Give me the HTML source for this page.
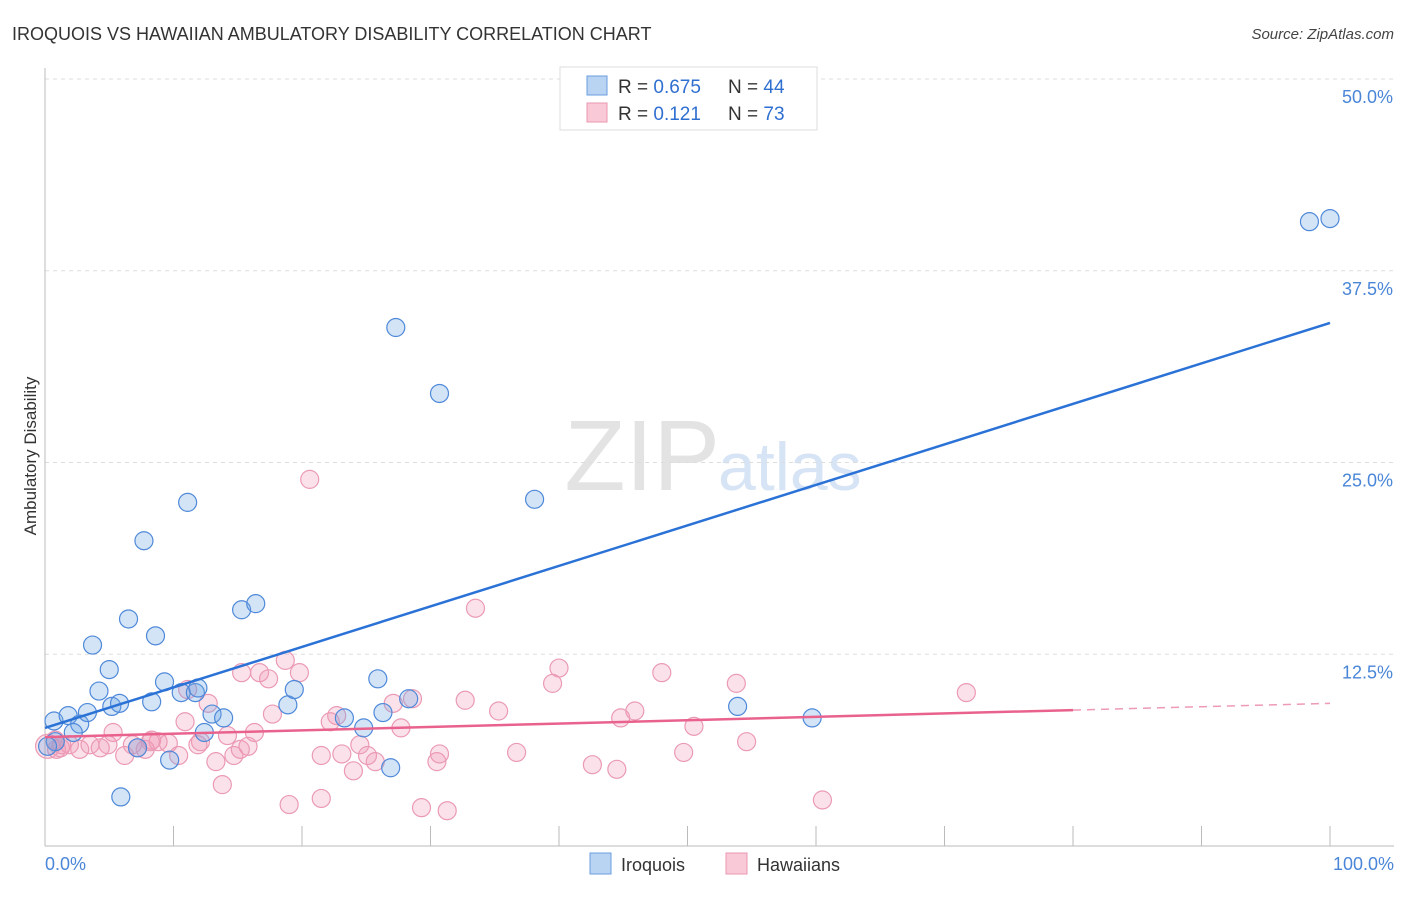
<!DOCTYPE html>
<html><head><meta charset="utf-8"><style>
body{margin:0;background:#fff;font-family:"Liberation Sans",sans-serif}
svg text{font-family:"Liberation Sans",sans-serif}
</style></head><body>
<svg id="chart" width="1406" height="892" viewBox="0 0 1406 892">
<text x="12" y="40" font-size="18" fill="#333">IROQUOIS VS HAWAIIAN AMBULATORY DISABILITY CORRELATION CHART</text>
<text x="1394" y="39" font-size="15" fill="#444" font-style="italic" text-anchor="end">Source: ZipAtlas.com</text>
<text x="720" y="490" font-size="100" fill="#e3e3e3" text-anchor="end" font-family="Liberation Serif">ZIP</text>
<text x="718" y="490" font-size="68" fill="#d6e4f5">atlas</text>
<g id="grid"></g>
<g id="axes"></g>
<g id="points"></g>
<g id="trends"></g>
<text x="36" y="456" font-size="17" fill="#333" text-anchor="middle" transform="rotate(-90 36 456)">Ambulatory Disability</text>
<text x="45" y="870" font-size="18" fill="#4a86d8">0.0%</text>
<text x="1394" y="870" font-size="18" fill="#4a86d8" text-anchor="end">100.0%</text>
<g>
<rect x="560" y="67" width="257" height="63" fill="#fff" stroke="#ddd"/>
<rect x="587" y="76" width="20" height="19" fill="#b9d3f3" stroke="#6a9edf"/>
<text x="618" y="93" font-size="19" fill="#333">R = <tspan fill="#2f6fd0">0.675</tspan></text>
<text x="728" y="93" font-size="19" fill="#333">N = <tspan fill="#2f6fd0">44</tspan></text>
<rect x="587" y="103" width="20" height="19" fill="#f9c9d8" stroke="#ec97b2"/>
<text x="618" y="120" font-size="19" fill="#333">R =  <tspan fill="#2f6fd0">0.121</tspan></text>
<text x="728" y="120" font-size="19" fill="#333">N = <tspan fill="#2f6fd0">73</tspan></text>
</g>
<g>
<rect x="590" y="853" width="21" height="21" fill="#b9d3f3" stroke="#6a9edf"/>
<text x="621" y="871" font-size="18" fill="#333">Iroquois</text></g>
<g>
<rect x="726" y="853" width="21" height="21" fill="#f9c9d8" stroke="#ec97b2"/>
<text x="757" y="871" font-size="18" fill="#333">Hawaiians</text></g>
</svg>
<script>
const yTicks=[12.5,25,37.5,50];
const yTickLabels=["12.5%","25.0%","37.5%","50.0%"];
const xTicks=[10,20,30,40,50,60,70,80,90,100];
const iroquoisX=[0.7,1.8,2.7,2.2,0.8,3.3,4.2,5.0,5.2,5.8,3.7,6.5,8.3,8.6,7.7,11.1,9.3,10.6,11.7,11.9,13.0,13.9,12.4,9.7,7.2,5.9,15.3,16.4,18.9,19.4,23.3,24.8,25.9,26.3,26.9,28.3,27.3,30.7,38.1,53.9,59.7,98.4,100,0.2];
const iroquoisY=[8.15,8.5,7.95,7.4,6.8,8.7,10.1,11.5,9.1,9.3,13.1,14.8,9.4,13.7,19.9,22.4,10.7,10.0,10.0,10.3,8.6,8.35,7.4,5.6,6.4,3.2,15.4,15.8,9.2,10.2,8.35,7.7,10.9,8.7,5.1,9.6,33.8,29.5,22.6,9.1,8.35,40.7,40.9,6.5];
const hawaiiansX=[0.2,0.8,1.3,1.9,2.7,3.5,4.3,4.9,5.3,6.2,6.8,7.2,7.8,8.3,8.8,9.6,10.4,10.9,11.1,11.9,12.1,12.7,13.3,13.8,14.2,14.7,15.3,15.8,16.3,16.7,17.4,17.7,18.7,19.0,19.8,20.6,21.5,21.5,22.2,22.7,23.1,24.0,24.5,25.1,25.7,27.1,27.7,28.6,29.3,30.5,30.7,31.3,32.7,33.5,35.3,36.7,39.5,40.0,42.6,44.5,44.8,45.9,48.0,49.7,50.5,53.8,54.6,60.5,71.7,0.9,8.2,1.2,15.2];
const hawaiiansY=[6.5,6.9,6.6,6.6,6.3,6.6,6.4,6.6,7.4,5.9,6.6,6.4,6.3,6.9,6.8,6.7,5.9,8.1,10.2,6.6,6.8,9.3,5.5,4.0,7.2,5.9,11.3,6.5,7.4,11.3,10.9,8.6,12.1,2.7,11.3,23.9,5.9,3.1,8.1,8.5,6.0,4.9,6.6,5.9,5.5,9.3,7.7,9.6,2.5,5.5,6.0,2.3,9.5,15.5,8.8,6.1,10.6,11.6,5.3,5.0,8.35,8.8,11.3,6.1,7.8,10.6,6.8,3.0,10.0,6.3,6.8,6.4,6.3];
const iroquoisTrend=[7.7,34.1];
const hawaiiansTrend=[7.1,9.3];
const hawaiiansSolidEnd=80;
const X0=45,X1=1330,Y0=846,Y50=79;
const sx=v=>X0+(X1-X0)*v/100;
const sy=v=>Y0-(Y0-Y50)*v/50;
const NS="http://www.w3.org/2000/svg";
function mk(tag,attrs,parent){const e=document.createElementNS(NS,tag);for(const k in attrs)e.setAttribute(k,attrs[k]);parent.appendChild(e);return e;}
const grid=document.getElementById('grid'),axes=document.getElementById('axes'),pts=document.getElementById('points'),tr=document.getElementById('trends');
yTicks.forEach((t,i)=>{
 const l=mk('line',{x1:X0,x2:1394,y1:sy(t),y2:sy(t),stroke:'#ddd','stroke-dasharray':'4,4'},grid);
 
 
 const tx=mk('text',{x:1393,y:sy(t)+24,'font-size':18,fill:'#4a86d8','text-anchor':'end'},grid);
 tx.textContent=yTickLabels[i];
 
 
});
const ya=mk('line',{x1:X0,x2:X0,y1:68,y2:Y0,stroke:'#bbb'},axes);


const xa=mk('line',{x1:X0,x2:1394,y1:Y0,y2:Y0,stroke:'#bbb'},axes);


xTicks.forEach(t=>{
 const l=mk('line',{x1:sx(t),x2:sx(t),y1:Y0-20,y2:Y0,stroke:'#bbb'},axes);
 
 
});
hawaiiansX.forEach((x,i)=>{
 const c=mk('circle',{cx:sx(x),cy:sy(hawaiiansY[i]),r:i===0?12:9,fill:'rgba(242,150,180,0.28)',stroke:'#eb9ab4','stroke-width':1.2},pts);
 
 
});
iroquoisX.forEach((x,i)=>{
 const c=mk('circle',{cx:sx(x),cy:sy(iroquoisY[i]),r:9,fill:'rgba(110,165,230,0.3)',stroke:'#4f89d9','stroke-width':1.2},pts);
 
 
});
const bl=mk('line',{x1:sx(0),y1:sy(iroquoisTrend[0]),x2:sx(100),y2:sy(iroquoisTrend[1]),stroke:'#2b72d6','stroke-width':2.5},tr);


const hy=x=>hawaiiansTrend[0]+(hawaiiansTrend[1]-hawaiiansTrend[0])*x/100;
const pl=mk('line',{x1:sx(0),y1:sy(hy(0)),x2:sx(hawaiiansSolidEnd),y2:sy(hy(hawaiiansSolidEnd)),stroke:'#e9628e','stroke-width':2.5},tr);


const pd=mk('line',{x1:sx(hawaiiansSolidEnd),y1:sy(hy(hawaiiansSolidEnd)),x2:sx(100),y2:sy(hy(100)),stroke:'#ef9ab5','stroke-width':1.5,'stroke-dasharray':'8,6'},tr);


</script>
</body></html>
